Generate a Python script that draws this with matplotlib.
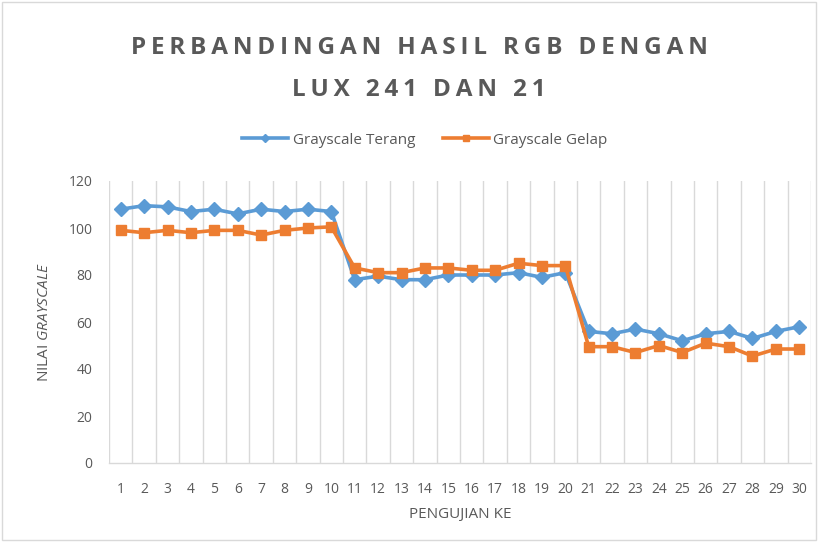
import matplotlib
matplotlib.use("Agg")
import matplotlib.pyplot as plt
from matplotlib.patches import Rectangle

# data
pengujian = list(range(1, 31))
terang = [108, 109.5, 109, 107, 108, 106, 108, 107, 108, 107,
          78, 79.5, 78, 78, 80, 80, 80, 81, 79, 81,
          56, 55, 57, 55, 52, 55, 56, 53, 56, 58]
gelap = [99, 98, 99, 98, 99, 99, 97, 99, 100, 100.5,
         83, 81, 81, 83, 83, 82, 82, 85, 84, 84,
         49.5, 49.5, 47, 50, 47, 51, 49.5, 45.5, 48.5, 48.5]
y_ticks = [0, 20, 40, 60, 80, 100, 120]

TEXT = '#595959'
GRID = '#D9D9D9'
BLUE = '#5B9BD5'
ORANGE = '#ED7D31'

plt.rcParams['font.family'] = ['Open Sans', 'DejaVu Sans']
plt.rcParams['mathtext.fontset'] = 'custom'
plt.rcParams['mathtext.it'] = 'Open Sans:italic'

fig = plt.figure(figsize=(8.18, 5.42), dpi=100)
ax = fig.add_axes([109 / 818, 1 - 463 / 542, 702 / 818, 282 / 542])

ax.plot(pengujian, terang, color=BLUE, lw=2.6, marker='D', ms=7,
        label='Grayscale Terang', zorder=3)
ax.plot(pengujian, gelap, color=ORANGE, lw=2.6, marker='s', ms=7.5,
        label='Grayscale Gelap', zorder=3)

ax.set_xlim(0.5, 30.5)
ax.set_ylim(0, 120)
ax.set_yticks(y_ticks)
ax.set_xticks(pengujian)

# vertical gridlines between categories, like Excel
for xb in [i + 0.5 for i in range(0, 31)]:
    ax.axvline(xb, color=GRID, lw=1, zorder=1)

for s in ['top', 'right', 'left']:
    ax.spines[s].set_visible(False)
ax.spines['bottom'].set_color(GRID)
ax.spines['bottom'].set_linewidth(1)

ax.tick_params(axis='both', length=0, colors=TEXT, labelsize=10)
ax.tick_params(axis='x', pad=14)
ax.tick_params(axis='y', pad=12)

ax.set_xlabel('PENGUJIAN KE', color=TEXT, fontsize=11, labelpad=7)
ax.set_ylabel(r'NILAI $\mathit{GRAYSCALE}$', color=TEXT, fontsize=11, labelpad=12)

sp = '\u2009'
line1 = 'PERBANDINGAN HASIL RGB DENGAN'
line2 = 'LUX 241 DAN 21'
fig.text(419 / 818, 1 - 48 / 542, sp.join(line1),
         ha='center', va='center', fontsize=17.5, fontweight='bold', color=TEXT)
fig.text(419 / 818, 1 - 90 / 542, sp.join(line2),
         ha='center', va='center', fontsize=17.5, fontweight='bold', color=TEXT)

ax.legend(loc='center', bbox_to_anchor=(425 / 818, 1 - 140 / 542),
          bbox_transform=fig.transFigure, ncol=2, frameon=False,
          fontsize=11, labelcolor=TEXT, handlelength=3, handletextpad=0.3,
          columnspacing=1.8, markerscale=0.6)

fig.patches.append(Rectangle((0.002, 0.004), 0.996, 0.992, transform=fig.transFigure,
                             fill=False, edgecolor=GRID, lw=1))

fig.savefig('out.png', dpi=100)
